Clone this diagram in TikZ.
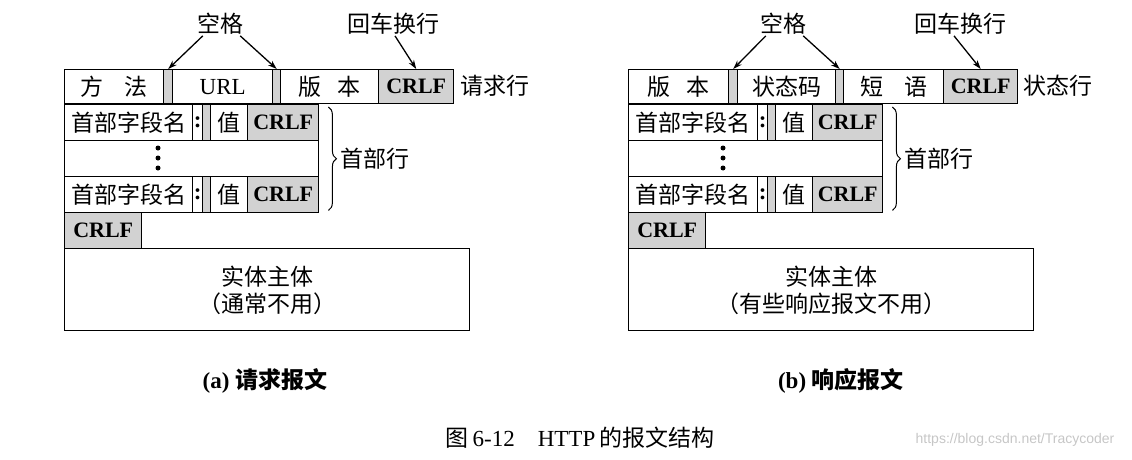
\documentclass[tikz,border=0pt]{standalone}
\usepackage{fontspec}
\setmainfont{Liberation Serif}
\newfontfamily\cjk{Noto Sans CJK SC}
\newfontfamily\wmfont{Liberation Sans}
\usetikzlibrary{arrows.meta}
\usetikzlibrary{decorations.pathreplacing}
\newcommand{\zhsize}{\fontsize{23}{27}\selectfont}
\tikzset{
  cell/.style={draw, line width=1.4pt, inner sep=0pt, anchor=north west,
               minimum height=34pt, font=\zhsize\cjk},  % one box of a row
  lat/.style={font=\zhsize\rmfamily},
  gap/.style={cell, fill=gray!35, minimum width=8pt},
  crlf/.style={cell, fill=gray!35, font=\fontsize{22}{26}\selectfont\bfseries},
  tag/.style={inner sep=1pt, font=\zhsize\cjk},
  dot/.style={circle, fill=black, inner sep=0pt, minimum size=5pt},
  arr/.style={-{Stealth[length=9pt,width=6pt]}, line width=1.3pt},
  brc/.style={decorate, decoration={brace, amplitude=8pt}, line width=1pt}
}
\begin{document}
\begin{tikzpicture}[x=1pt,y=-1pt]
  \useasboundingbox (0,0) rectangle (1132,460);

  % (a) request message
  \node[cell, minimum width=99pt]  (lm1) at (64,69)  {方\hspace{0.9em}法};
  \node[gap,  minimum width=9pt]   (lg1) at (163,69) {};
  \node[cell, lat, minimum width=100pt] (lm2) at (172,69) {URL};
  \node[gap]                       (lg2) at (272,69) {};
  \node[cell, minimum width=98pt]  (lm3) at (280,69) {版\hspace{0.7em}本};
  \node[crlf, minimum width=75pt]  (lm4) at (378,69) {CRLF};
  \node[tag, anchor=west] (lreq) at (459,86) {请求行};

  \foreach \y/\r in {104/1,176/3} {
    \node[cell, minimum height=36pt, minimum width=128pt] (ln\r) at (64,\y) {首部字段名};
    \node[cell, lat, minimum height=36pt, minimum width=10pt] (lc\r) at (192,\y) {\bfseries :};
    \node[gap, minimum height=36pt] (lb\r) at (202,\y) {};
    \node[cell, minimum height=36pt, minimum width=37pt] (lv\r) at (210,\y) {值};
    \node[crlf, minimum height=36pt, minimum width=71pt] (le\r) at (247,\y) {CRLF};
  }
  \node[cell, minimum height=36pt, minimum width=254pt] (ln2) at (64,140) {};
  \foreach \d/\y in {1/148,2/158,3/168}
    \node[dot] (ld\d) at (158,\y) {};
  \node[crlf, minimum height=36pt, minimum width=77pt] (lend) at (64,212) {CRLF};
  \node[cell, minimum height=82pt, minimum width=405pt, align=center,
        font=\zhsize\cjk, text depth=0pt] (lbody) at (64,248) {实体主体\\（通常不用）};

  \draw[brc] ([xshift=9pt,yshift=-3pt]le1.north east) -- ([xshift=9pt,yshift=3pt]le3.south east)
    node[midway, right=11pt, tag] (lhd) {首部行};

  \node[tag] (lkg) at (220,24) {空格};
  \node[tag] (lhc) at (393,24) {回车换行};
  \draw[arr] ([xshift=7pt]lkg.south west) -- (lg1.north);
  \draw[arr] ([xshift=-4pt]lkg.south east) -- (lg2.north);
  \draw[arr] ([xshift=2pt]lhc.south) -- (lm4.north);

  \node[font=\zhsize\bfseries] (lcap) at (265,381) {(a) {\cjk 请求报文}};

  % (b) response message
  \node[cell, minimum width=100pt] (rm1) at (628,69) {版\hspace{0.7em}本};
  \node[gap,  minimum width=9pt]   (rg1) at (728,69) {};
  \node[cell, minimum width=98pt]  (rm2) at (737,69) {状态码};
  \node[gap]                       (rg2) at (835,69) {};
  \node[cell, minimum width=100pt] (rm3) at (843,69) {短\hspace{0.9em}语};
  \node[crlf, minimum width=74pt]  (rm4) at (943,69) {CRLF};
  \node[tag, anchor=west] (rsta) at (1022,86) {状态行};

  \foreach \y/\r in {104/1,176/3} {
    \node[cell, minimum height=36pt, minimum width=129pt] (rn\r) at (628,\y) {首部字段名};
    \node[cell, lat, minimum height=36pt, minimum width=10pt] (rc\r) at (757,\y) {\bfseries :};
    \node[gap, minimum height=36pt] (rb\r) at (767,\y) {};
    \node[cell, minimum height=36pt, minimum width=37pt] (rv\r) at (775,\y) {值};
    \node[crlf, minimum height=36pt, minimum width=70pt] (re\r) at (812,\y) {CRLF};
  }
  \node[cell, minimum height=36pt, minimum width=254pt] (rn2) at (628,140) {};
  \foreach \d/\y in {1/148,2/158,3/168}
    \node[dot] (rd\d) at (723,\y) {};
  \node[crlf, minimum height=36pt, minimum width=77pt] (rend) at (628,212) {CRLF};
  \node[cell, minimum height=82pt, minimum width=405pt, align=center,
        font=\zhsize\cjk, text depth=0pt] (rbody) at (628,248) {实体主体\\（有些响应报文不用）};

  \draw[brc] ([xshift=9pt,yshift=-3pt]re1.north east) -- ([xshift=9pt,yshift=3pt]re3.south east)
    node[midway, right=11pt, tag] (rhd) {首部行};

  \node[tag] (rkg) at (783,24) {空格};
  \node[tag] (rhc) at (960,24) {回车换行};
  \draw[arr] ([xshift=7pt]rkg.south west) -- (rg1.north);
  \draw[arr] ([xshift=-4pt]rkg.south east) -- (rg2.north);
  \draw[arr] ([xshift=-6pt]rhc.south) -- (rm4.north);

  \node[font=\zhsize\bfseries] (rcap) at (841,381) {(b) {\cjk 响应报文}};

  % figure caption
  \node[font=\zhsize] (fig) at (580,438) {{\cjk 图}\,6-12\hspace{1em}HTTP\,{\cjk 的报文结构}};
  \node[font=\fontsize{14}{16}\selectfont\wmfont, text=gray!45] (wm) at (1015,440)
    {https://blog.csdn.net/Tracycoder};
\end{tikzpicture}
\end{document}
